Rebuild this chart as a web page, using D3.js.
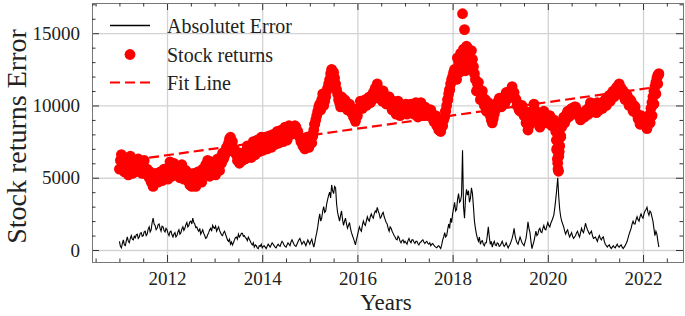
<!DOCTYPE html>
<html>
<head>
<meta charset="utf-8">
<script src="https://cdn.jsdelivr.net/npm/d3@7"></script>
<style>
  body { margin: 0; background: #fff; }
  text { font-family: "Liberation Serif", "Times New Roman", serif; fill: #222; }
</style>
</head>
<body>
<div id="chart"></div>
<script>
let startYear = 2011
let stepYear = 1 / 48

// stock returns, one line per year (48 samples per year)
let stockValues = [
  5600, 6200, 6600, 6000, 5900, 5400, 6300, 5800, 5500, 5200, 6100, 6500, 5700, 5300, 6200, 5800, 5400, 5800, 5900, 6300, 6200, 5800, 5600, 5300,
  5800, 6200, 5300, 5600, 5600, 5200, 5000, 5400, 4700, 5100, 4400, 4600, 4800, 5300, 5200, 4700, 4900, 5400, 5300, 4800, 5100, 5600, 5500, 5100,
  5300, 4900, 5700, 6100, 5500, 5100, 5900, 6000, 5600, 5200, 5800, 5400, 5400, 5000, 5700, 5900, 5300, 4900, 5100, 5500, 5400, 4800, 4900, 4500,
  4800, 4400, 5100, 5300, 4700, 4400, 5000, 5400, 5300, 4900, 5100, 4700, 5600, 5200, 5400, 5900, 5800, 6200, 5500, 5100, 5700, 6100, 5400, 5800,
  5600, 5200, 6000, 6300, 5800, 5500, 6300, 6000, 6700, 6300, 6500, 6900, 7100, 6800, 7400, 7700, 7800, 7300, 7500, 7000, 7000, 6700, 6600, 6200,
  6300, 6000, 6700, 6400, 6200, 6700, 6600, 6300, 6900, 7200, 6500, 6800, 6800, 6400, 7100, 7500, 6900, 6600, 7300, 7600, 7100, 6800, 7400, 7800,
  7200, 6900, 7500, 7800, 7300, 7000, 7600, 7900, 7400, 7100, 7700, 8000, 7600, 7300, 7900, 8200, 7700, 7400, 8000, 8300, 7800, 7500, 8100, 8500,
  7900, 7600, 8200, 8600, 8400, 8000, 8100, 8400, 8300, 8600, 8500, 8100, 8200, 7900, 7800, 7500, 7500, 7200, 7200, 7000, 7500, 7800, 7300, 7100,
  7700, 7900, 7400, 7900, 8300, 8700, 9000, 9300, 9600, 9900, 10100, 9700, 10400, 10800, 10000, 10300, 10600, 11000, 11200, 11500, 11800, 12200, 12500, 12100,
  12300, 11900, 11500, 11100, 10800, 10400, 10200, 9900, 10600, 10300, 10000, 10400, 10300, 9900, 9700, 10000, 10100, 9800, 9500, 9800, 9200, 9500, 8900, 9200,
  9300, 9700, 9800, 10300, 10200, 9800, 9900, 10300, 10400, 10000, 10100, 10500, 10600, 10200, 10300, 10700, 10900, 10500, 11200, 10800, 11500, 11100, 11100, 10600,
  10700, 10300, 11000, 10600, 10500, 10100, 10200, 10600, 10600, 10200, 10000, 9700, 10300, 10000, 9700, 9400, 10000, 10300, 9600, 9300, 9900, 9600, 9500, 9800,
  9800, 10100, 9400, 9600, 9900, 9500, 10100, 9800, 9700, 9400, 10000, 10200, 9500, 9200, 9800, 10000, 10200, 9900, 9700, 9300, 9900, 9600, 9600, 9300,
  9400, 9700, 9700, 9400, 9200, 8900, 9000, 9300, 8600, 8900, 8300, 8500, 8200, 8500, 8600, 9000, 9200, 9600, 10000, 10400, 10800, 11100, 11500, 11800,
  12000, 12300, 12500, 12000, 11800, 12600, 13000, 12400, 13600, 13100, 16350, 13900, 15250, 12500, 14100, 13700, 13400, 12900, 12600, 13800, 13200, 12700, 12200, 11800,
  11000, 11500, 11600, 11100, 10400, 10800, 11000, 10500, 10000, 10400, 9600, 9900, 10200, 9700, 9300, 9000, 8800, 9100, 9400, 9700, 9800, 10200, 10100, 10500,
  10400, 9900, 10000, 10400, 10600, 10200, 10900, 10500, 10500, 10900, 11000, 10600, 11300, 10900, 10900, 10500, 10400, 10000, 10100, 9700, 9600, 9900, 10000, 9600,
  9300, 9600, 8800, 9100, 8300, 8600, 9000, 9400, 9600, 9300, 10100, 9700, 9500, 9100, 9000, 8700, 8500, 8900, 9200, 8800, 9600, 9200, 9100, 8800,
  8800, 9100, 9300, 8900, 8600, 9000, 9000, 8600, 8200, 7000, 6000, 6500, 7200, 7800, 8500, 8900, 9200, 8800, 9000, 9400, 9600, 9200, 9300, 9700,
  9800, 9400, 9500, 9900, 9900, 9500, 9600, 9300, 9400, 9000, 9100, 9400, 9500, 9200, 9300, 9700, 9700, 9400, 9900, 10200, 9600, 9900, 10100, 9800,
  9800, 9500, 10200, 9900, 9700, 10100, 10100, 9800, 9900, 10300, 10400, 10000, 10200, 10600, 10700, 10300, 10500, 10900, 11000, 10600, 10800, 11200, 11300, 10900,
  11500, 11100, 11200, 10800, 11000, 10600, 10400, 10800, 10700, 10300, 10000, 10400, 10300, 9900, 9600, 10000, 9900, 9500, 9400, 9100, 9000, 8700, 9300, 8900,
  8700, 9000, 9100, 8700, 8400, 8800, 9000, 9400, 9800, 10200, 10600, 11000, 11300, 11600, 11900, 12100, 12200
]

// extra daily points where the price moved fast
let stockExtraYears = [2015.06, 2015.1, 2017.85, 2017.9, 2017.94, 2018.1, 2018.15, 2018.27, 2018.31,
  2020.18, 2020.19, 2020.2, 2020.215, 2020.225, 2020.23, 2020.24, 2020.27,
  2022.15, 2022.19, 2022.23, 2022.27, 2022.31, 2022.325]
let stockExtraValues = [7900, 8700, 9600, 10400, 11100, 13300, 12300, 12400, 14000,
  7600, 6900, 6300, 5600, 5450, 6500, 6800, 7900,
  8800, 9300, 10100, 10800, 11500, 12100]

// absolute error, same weekly sampling
let errorValues = [
  600, 250, 150, 450, 700, 350, 300, 650, 900, 600, 500, 800, 1000, 750, 700, 950, 850, 1050, 1100, 800, 900, 1150, 1200, 950,
  1000, 1250, 1300, 1000, 1100, 1450, 1600, 1250, 1400, 1900, 2200, 1800, 1700, 1400, 1500, 1750, 1800, 1500, 1300, 1650, 1600, 1350, 1250, 1500,
  1400, 1150, 1000, 1250, 1300, 1050, 900, 1100, 1200, 900, 1000, 1250, 1400, 1100, 1200, 1450, 1600, 1350, 1500, 1750, 1900, 1600, 1700, 1950,
  2000, 1800, 2200, 1900, 1800, 1550, 1600, 1400, 1300, 1500, 1100, 1250, 1400, 1150, 1000, 800, 850, 1050, 1200, 1400, 1500, 1300, 1700, 1550,
  1500, 1650, 1300, 1450, 1600, 1350, 1200, 1050, 1000, 1200, 1300, 1100, 900, 700, 600, 750, 400, 550, 350, 500, 700, 850, 900, 750,
  1100, 900, 1000, 1150, 1150, 950, 1000, 850, 800, 650, 900, 750, 600, 450, 350, 500, 200, 350, 300, 150, 100, 300, 250, 400,
  150, 250, 300, 200, 100, 250, 400, 300, 200, 350, 500, 400, 300, 200, 150, 300, 400, 300, 250, 450, 600, 500, 350, 250,
  200, 350, 500, 400, 300, 550, 700, 550, 400, 300, 250, 400, 550, 700, 800, 600, 400, 500, 600, 450, 300, 500, 700, 550,
  400, 600, 750, 450, 200, 500, 900, 1200, 1600, 2100, 2500, 2000, 2200, 2700, 3000, 2600, 2700, 3200, 3500, 3800, 4000, 3600, 4500, 4100,
  3900, 4400, 4300, 3200, 2600, 2300, 2000, 2400, 2700, 2100, 1700, 2000, 2200, 1800, 1500, 1700, 1900, 1500, 1200, 1000, 800, 600, 350, 700,
  1000, 1300, 1600, 1400, 1300, 1700, 2000, 1800, 1700, 2000, 2300, 2100, 2000, 2300, 2500, 2300, 2200, 2500, 2700, 2600, 2950, 2700, 2500, 2200,
  2300, 2500, 2600, 2300, 2100, 1900, 1800, 1500, 1300, 1600, 1500, 1300, 1150, 1000, 900, 750, 700, 950, 850, 600, 500, 650, 700, 500,
  600, 500, 400, 650, 800, 600, 500, 700, 700, 550, 450, 600, 600, 450, 350, 500, 550, 650, 700, 550, 450, 550, 600, 450,
  400, 500, 300, 400, 450, 350, 250, 200, 150, 250, 300, 200, 100, 350, 700, 900, 1200, 900, 1000, 1400, 1800, 1500, 2200, 1900,
  2500, 2900, 3300, 2700, 2800, 3500, 3900, 3300, 3400, 3800, 6900, 3000, 2200, 3600, 4200, 3800, 4100, 3300, 3600, 4300, 3900, 3000, 2000, 1500,
  1100, 800, 600, 900, 400, 600, 650, 400, 300, 500, 500, 1000, 1600, 900, 400, 600, 200, 450, 600, 350, 300, 500, 450, 250,
  300, 450, 600, 400, 250, 350, 500, 300, 150, 300, 400, 600, 800, 1100, 1500, 1000, 700, 500, 400, 650, 900, 700, 500, 400,
  300, 550, 800, 1300, 1950, 1500, 1200, 600, 100, 350, 600, 950, 1300, 1000, 1100, 1400, 1500, 1250, 1200, 1500, 1700, 1450, 1400, 1650,
  1900, 1700, 1600, 1850, 2000, 2200, 2400, 2900, 3500, 4200, 5000, 3700, 2800, 2300, 2000, 1800, 1600, 1300, 1100, 1300, 1400, 1100, 900, 1050,
  1200, 950, 800, 900, 1000, 1200, 1300, 1050, 900, 1200, 1500, 1300, 1200, 1500, 1850, 1600, 1400, 1250, 1100, 1200, 1300, 1000, 800, 850,
  900, 750, 600, 850, 1000, 800, 700, 850, 900, 600, 400, 300, 200, 300, 350, 200, 100, 200, 300, 200, 150, 300, 400, 250,
  200, 300, 350, 200, 100, 200, 300, 450, 600, 850, 1100, 1300, 1500, 1800, 2000, 1800, 1800, 2100, 2300, 2100, 2000, 2300, 2500, 2300,
  2200, 2500, 2700, 2800, 2950, 2600, 2400, 2700, 2600, 2300, 2000, 1500, 1000, 1300, 1100, 600, 200
]

// fitted trend end points
let fitYears = [2011.0, 2022.33]
let fitValues = [6100, 11300]

let xTicks = [2012, 2014, 2016, 2018, 2020, 2022]
let yTicks = [0, 5000, 10000, 15000]
let legendLabels = ["Absolutet Error", "Stock returns", "Fit Line"]

// set the dimensions and margins of the graph
let margin = { top: 3, right: 2, bottom: 54, left: 92 },
  width = 685 - margin.left - margin.right,
  height = 316 - margin.top - margin.bottom

let svg = d3.select("#chart")
  .append("svg")
  .attr("width", 685)
  .attr("height", 316)

let g = svg.append("g")
  .attr("transform", "translate(" + margin.left + "," + margin.top + ")")

let x = d3.scaleLinear().domain([2010.424, 2022.84]).range([0, width])
let y = d3.scaleLinear().domain([-830, 17090]).range([height, 0])

let stock = stockValues.map((v, i) => ({ t: startYear + i * stepYear, v: v }))
  .concat(stockExtraYears.map((t, i) => ({ t: t, v: stockExtraValues[i] })))
let err = errorValues.map((v, i) => ({ t: startYear + i * stepYear, v: v }))

let minorX = d3.range(2010.5, 2022.9, 0.5).filter(d => d % 2 !== 0)
let minorY = d3.range(0, 17001, 1000).filter(d => d % 5000 !== 0)

// grid
g.append("g")
  .attr("transform", "translate(0," + height + ")")
  .call(d3.axisBottom(x).tickValues(xTicks).tickSize(-height).tickFormat(""))
  .call(a => a.select(".domain").remove())
  .selectAll("line").attr("stroke", "#d3d3d3").attr("stroke-width", 1.3)
g.append("g")
  .call(d3.axisLeft(y).tickValues(yTicks).tickSize(-width).tickFormat(""))
  .call(a => a.select(".domain").remove())
  .selectAll("line").attr("stroke", "#d3d3d3").attr("stroke-width", 1.3)

// absolute error line
g.append("path")
  .datum(err)
  .attr("d", d3.line().x(d => x(d.t)).y(d => y(d.v)))
  .attr("fill", "none")
  .attr("stroke", "#000")
  .attr("stroke-width", 1.1)

// stock returns dots
g.selectAll("circle.stock")
  .data(stock)
  .enter()
  .append("circle")
  .attr("class", "stock")
  .attr("cx", d => x(d.t))
  .attr("cy", d => y(d.v))
  .attr("r", 5.4)
  .attr("fill", "#ff0000")

// fit line
g.append("path")
  .datum(fitYears.map((t, i) => ({ t: t, v: fitValues[i] })))
  .attr("d", d3.line().x(d => x(d.t)).y(d => y(d.v)))
  .attr("fill", "none")
  .attr("stroke", "#ff0000")
  .attr("stroke-width", 2.2)
  .attr("stroke-dasharray", "10,5")

// axes with inward ticks on all four sides
function styleAxis(a) {
  a.select(".domain").attr("stroke", "#777").attr("stroke-width", 1)
  a.selectAll(".tick line").attr("stroke", "#333").attr("stroke-width", 1)
  a.selectAll("text").style("font-size", "19px").attr("fill", "#222")
}
g.append("g")
  .attr("transform", "translate(0," + height + ")")
  .call(d3.axisBottom(x).tickValues(xTicks).tickFormat(d3.format("d")).tickSize(-7).tickPadding(10))
  .call(styleAxis)
g.append("g")
  .attr("transform", "translate(0," + height + ")")
  .call(d3.axisBottom(x).tickValues(minorX).tickFormat("").tickSize(-3.5))
  .call(styleAxis)
g.append("g")
  .call(d3.axisTop(x).tickValues(xTicks).tickFormat("").tickSize(-7))
  .call(styleAxis)
g.append("g")
  .call(d3.axisTop(x).tickValues(minorX).tickFormat("").tickSize(-3.5))
  .call(styleAxis)
g.append("g")
  .call(d3.axisLeft(y).tickValues(yTicks).tickFormat(d3.format("d")).tickSize(-7).tickPadding(12))
  .call(styleAxis)
g.append("g")
  .call(d3.axisLeft(y).tickValues(minorY).tickFormat("").tickSize(-3.5))
  .call(styleAxis)
g.append("g")
  .attr("transform", "translate(" + width + ",0)")
  .call(d3.axisRight(y).tickValues(yTicks).tickFormat("").tickSize(-7))
  .call(styleAxis)
g.append("g")
  .attr("transform", "translate(" + width + ",0)")
  .call(d3.axisRight(y).tickValues(minorY).tickFormat("").tickSize(-3.5))
  .call(styleAxis)

// axis titles
svg.append("text")
  .attr("x", margin.left + x(2016.6))
  .attr("y", 310)
  .attr("text-anchor", "middle")
  .style("font-size", "23px")
  .text("Years")
svg.append("text")
  .attr("transform", "translate(26," + (margin.top + height / 2 + 4) + ") rotate(-90)")
  .attr("text-anchor", "middle")
  .style("font-size", "28px")
  .text("Stock returns Error")

// legend
let legend = svg.append("g").attr("transform", "translate(110,25.5)")
let rowGap = 29
legend.append("line")
  .attr("x1", 0).attr("x2", 40).attr("y1", 0).attr("y2", 0)
  .attr("stroke", "#000").attr("stroke-width", 1.3)
legend.append("circle")
  .attr("cx", 20).attr("cy", rowGap).attr("r", 5.4).attr("fill", "#ff0000")
legend.append("line")
  .attr("x1", 0).attr("x2", 40).attr("y1", rowGap * 2 - 1).attr("y2", rowGap * 2 - 1)
  .attr("stroke", "#ff0000").attr("stroke-width", 2.2).attr("stroke-dasharray", "10,5")
legend.selectAll("text.lab")
  .data(legendLabels)
  .enter()
  .append("text")
  .attr("class", "lab")
  .attr("x", 57)
  .attr("y", (d, i) => i * rowGap - (i == 2 ? 1 : 0))
  .attr("dy", "0.35em")
  .style("font-size", "20px")
  .text(d => d)
</script>
</body>
</html>
